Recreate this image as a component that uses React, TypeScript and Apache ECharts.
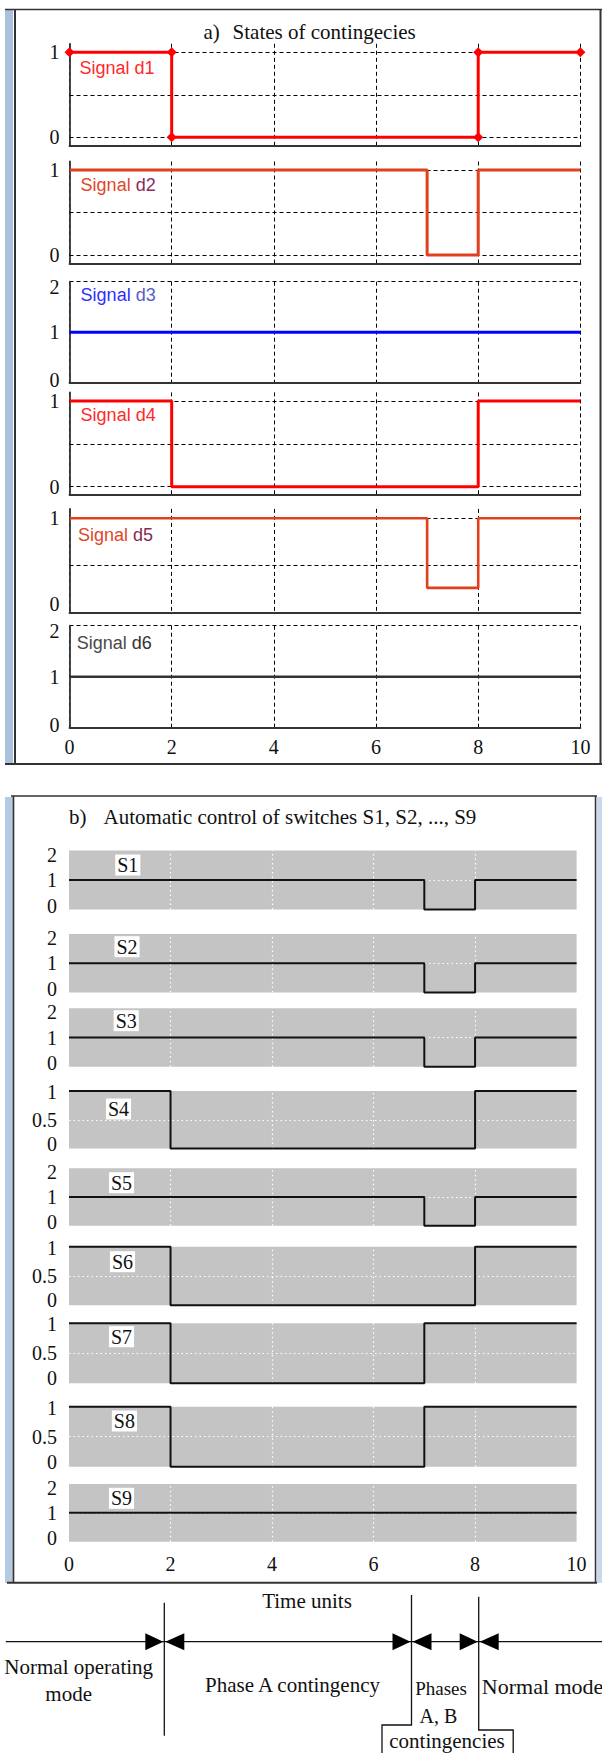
import React, { useEffect, useRef } from "react";
import * as echarts from "echarts";

// ---------- data (time, value) ----------
const timeTicks = [0, 2, 4, 6, 8, 10];

const d1 = [[0, 1], [2, 1], [2, 0], [8, 0], [8, 1], [10, 1]];
const d2 = [[0, 1], [7, 1], [7, 0], [8, 0], [8, 1], [10, 1]];
const d3 = [[0, 1], [10, 1]];
const d4 = [[0, 1], [2, 1], [2, 0], [8, 0], [8, 1], [10, 1]];
const d5 = [[0, 1], [7, 1], [7, 0.26], [8, 0.26], [8, 1], [10, 1]];
const d6 = [[0, 1], [10, 1]];

const S1 = [[0, 1], [7, 1], [7, 0], [8, 0], [8, 1], [10, 1]];
const S2 = [[0, 1], [7, 1], [7, 0], [8, 0], [8, 1], [10, 1]];
const S3 = [[0, 1], [7, 1], [7, 0], [8, 0], [8, 1], [10, 1]];
const S4 = [[0, 1], [2, 1], [2, 0], [8, 0], [8, 1], [10, 1]];
const S5 = [[0, 1], [7, 1], [7, 0], [8, 0], [8, 1], [10, 1]];
const S6 = [[0, 1], [2, 1], [2, 0], [8, 0], [8, 1], [10, 1]];
const S7 = [[0, 1], [2, 1], [2, 0], [7, 0], [7, 1], [10, 1]];
const S8 = [[0, 1], [2, 1], [2, 0], [7, 0], [7, 1], [10, 1]];
const S9 = [[0, 1], [10, 1]];

const signalNames = ["d1", "d2", "d3", "d4", "d5", "d6"];
const signalData = [d1, d2, d3, d4, d5, d6];
const switchNames = ["S1", "S2", "S3", "S4", "S5", "S6", "S7", "S8", "S9"];
const switchData = [S1, S2, S3, S4, S5, S6, S7, S8, S9];

// y ranges / tick values
const unitRange = [-0.1, 1.1];
const unitTopRange = [0, 1.1];
const twoRange = [0, 2];
const oneRange = [0, 1];
const unitGridValues = [0, 0.5, 1];
const unitTopGridValues = [0.5, 1];
const twoInnerGrid = [1];
const oneInnerGrid = [0.5];

// ---------- styles / layout ----------
const SERIF = "'Liberation Serif', 'Times New Roman', Times, serif";
const SANS = "'Liberation Sans', Arial, Helvetica, sans-serif";

const aLayout = [
  { top: 43.8, height: 102, kind: "unit" },
  { top: 161.5, height: 102, kind: "unit" },
  { top: 281.7, height: 101, kind: "two" },
  { top: 392.4, height: 102.8, kind: "unit" },
  { top: 508.9, height: 103.4, kind: "unitTop" },
  { top: 625.7, height: 102, kind: "two" },
];
const aColors = ["#ff0000", "#e0401c", "#0000ff", "#ff0000", "#e0401c", "#333333"];
const aWidths = [3, 3, 3, 3, 2.6, 2.6];
const aLabelPos = [
  [79.5, 68.3], [80.6, 185], [80.6, 295], [80.6, 415], [78, 535], [76.8, 642.7],
];
const aLabelColors = [
  ["#ff2a2a", "#ff2a2a"],
  ["#e2452a", "#8a2a60"],
  ["#3030ff", "#5a5ac8"],
  ["#ff2a2a", "#ff2a2a"],
  ["#e2452a", "#8a2a50"],
  ["#4a4a4a", "#333333"],
];

const bLayout = [
  { top: 850.5, height: 59, kind: "two" },
  { top: 934, height: 58.5, kind: "two" },
  { top: 1008.3, height: 58.5, kind: "two" },
  { top: 1091, height: 57.5, kind: "one" },
  { top: 1168.3, height: 57.5, kind: "two" },
  { top: 1246.7, height: 58.5, kind: "one" },
  { top: 1323.3, height: 60, kind: "one" },
  { top: 1406.7, height: 60, kind: "one" },
  { top: 1484, height: 57.7, kind: "two" },
];
const bLabelPos = [
  [127.8, 865], [127, 946.7], [126.2, 1020.7], [118.5, 1109], [121.5, 1182.7],
  [122.5, 1261.7], [121.5, 1336.7], [124.4, 1421], [121.5, 1498.3],
];

const near = (a: number, b: number) => Math.abs(a - b) < 1e-6;

// rich-text y labels: the lowest label is lifted, the highest one lowered
function yLabel(shiftLo: number, shiftHi: number, lo: number, hi: number, shown: number[]) {
  const base = { fontFamily: SERIF, fontSize: 20, color: "#111" };
  return {
    margin: 10,
    ...base,
    formatter: (v: number) => {
      if (!shown.some((s) => near(s, v))) return "";
      const t = String(Math.round(v * 10) / 10);
      if (near(v, lo)) return "{lo|" + t + "}";
      if (near(v, hi)) return "{hi|" + t + "}";
      return "{n|" + t + "}";
    },
    rich: {
      lo: { ...base, padding: [0, 0, 2 * shiftLo, 0] },
      hi: { ...base, padding: [2 * shiftHi, 0, 0, 0] },
      n: { ...base },
    },
  };
}

function buildOption() {
  const grids: any[] = [];
  const xAxes: any[] = [];
  const yAxes: any[] = [];
  const series: any[] = [];
  const graphics: any[] = [];
  const xMin = timeTicks[0];
  const xMax = timeTicks[timeTicks.length - 1];
  const xInt = timeTicks[1] - timeTicks[0];
  const innerX = timeTicks.slice(1, -1);

  // ----- panel a -----
  aLayout.forEach((L, i) => {
    const gi = grids.length;
    grids.push({ left: 69.5, width: 510.9, top: L.top, height: L.height });
    xAxes.push({
      type: "value", gridIndex: gi, min: xMin, max: xMax, interval: xInt,
      axisLine: { show: true, onZero: false, lineStyle: { color: "#333", width: 1.8 } },
      axisTick: { show: false },
      axisLabel: { show: i === aLayout.length - 1, margin: 9, fontFamily: SERIF, fontSize: 20, color: "#111" },
      splitLine: { show: true, lineStyle: { color: "#000", width: 1, type: [4, 3] } },
    });
    let y: any;
    if (L.kind === "two") {
      y = {
        min: twoRange[0], max: twoRange[1], interval: 1,
        splitLine: { show: true, lineStyle: { color: "#000", width: 1, type: [4, 3] } },
        axisLabel: yLabel(3, 5, 0, 2, [0, 1, 2]),
      };
    } else {
      const r = L.kind === "unit" ? unitRange : unitTopRange;
      y = {
        min: r[0], max: r[1], interval: 0.1,
        splitLine: { show: false },
        axisLabel: L.kind === "unit" ? yLabel(0, 0, 0, 1, [0, 1]) : yLabel(8, 0, 0, 1, [0, 1]),
      };
    }
    yAxes.push({
      type: "value", gridIndex: gi, ...y,
      axisLine: { show: true, onZero: false, lineStyle: { color: "#333", width: 1.8 } },
      axisTick: { show: false },
    });
    const s: any = {
      type: "line", name: signalNames[i], xAxisIndex: gi, yAxisIndex: gi,
      data: signalData[i], clip: false, z: 3,
      lineStyle: { color: aColors[i], width: aWidths[i] },
      itemStyle: { color: aColors[i] },
      symbol: i === 0 ? "diamond" : "none", symbolSize: 10, showSymbol: i === 0,
    };
    if (L.kind !== "two") {
      s.markLine = {
        silent: true, symbol: ["none", "none"], z: 1, animation: false,
        label: { show: false },
        lineStyle: { color: "#000", width: 1, type: [4, 3] },
        data: (L.kind === "unit" ? unitGridValues : unitTopGridValues).map((v) => ({ yAxis: v })),
      };
    }
    series.push(s);
    const [lx, ly] = aLabelPos[i];
    const [c1, c2] = aLabelColors[i];
    graphics.push({
      type: "text", x: lx, y: ly, z: 10,
      style: {
        text: "{a|Signal }{b|" + signalNames[i] + "}",
        rich: {
          a: { fill: c1, fontFamily: SANS, fontSize: 18 },
          b: { fill: c2, fontFamily: SANS, fontSize: 18 },
        },
        align: "left", verticalAlign: "middle", textAlign: "left", textVerticalAlign: "middle",
      },
    });
  });

  // ----- panel b -----
  const dotted = { color: "#ffffff", width: 1.2, type: [1.5, 3] };
  bLayout.forEach((L, i) => {
    const gi = grids.length;
    grids.push({
      left: 69, width: 507.6, top: L.top, height: L.height,
      show: true, backgroundColor: "#c4c4c4", borderWidth: 0,
    });
    xAxes.push({
      type: "value", gridIndex: gi, min: xMin, max: xMax, interval: xInt,
      axisLine: { show: false }, axisTick: { show: false },
      axisLabel: { show: i === bLayout.length - 1, margin: 12, fontFamily: SERIF, fontSize: 20, color: "#111" },
      splitLine: { show: false },
    });
    const two = L.kind === "two";
    const r = two ? twoRange : oneRange;
    const lab = two ? yLabel(4, 4, 0, 2, [0, 1, 2]) : yLabel(5, 1, 0, 1, [0, 0.5, 1]);
    yAxes.push({
      type: "value", gridIndex: gi, min: r[0], max: r[1], interval: two ? 1 : 0.5,
      axisLine: { show: false }, axisTick: { show: false },
      axisLabel: { ...lab, margin: 12 },
      splitLine: { show: false },
    });
    series.push({
      type: "line", name: switchNames[i], xAxisIndex: gi, yAxisIndex: gi,
      data: switchData[i], clip: false, z: 3, symbol: "none", showSymbol: false,
      lineStyle: { color: "#111", width: 2 },
      markLine: {
        silent: true, symbol: ["none", "none"], z: 1, animation: false,
        label: { show: false },
        lineStyle: dotted,
        data: [
          ...innerX.map((v) => ({ xAxis: v })),
          ...(two ? twoInnerGrid : oneInnerGrid).map((v) => ({ yAxis: v })),
        ],
      },
    });
    const [lx, ly] = bLabelPos[i];
    graphics.push({
      type: "text", x: lx, y: ly, z: 10,
      style: {
        text: switchNames[i], fill: "#111", font: "20px " + SERIF,
        backgroundColor: "#ffffff", padding: [1, 2, 0, 2],
        align: "center", verticalAlign: "middle", textAlign: "center", textVerticalAlign: "middle",
      },
    });
  });

  const line = (x1: number, y1: number, x2: number, y2: number, w = 1.5, c = "#333") => ({
    type: "line", z: 5, shape: { x1, y1, x2, y2 }, style: { stroke: c, lineWidth: w },
  });
  const text = (t: string, x: number, y: number, align: string, size = 21) => ({
    type: "text", x, y, z: 10,
    style: {
      text: t, fill: "#111", font: size + "px " + SERIF,
      align, verticalAlign: "middle", textAlign: align, textVerticalAlign: "middle",
    },
  });

  // frames panel a
  graphics.push({ type: "rect", z: 4, shape: { x: 5, y: 10, width: 8, height: 754 }, style: { fill: "#a9c3df" } });
  graphics.push(line(5, 9.5, 602, 9.5, 1.5));
  graphics.push(line(15, 10, 15, 764, 2));
  graphics.push(line(600.5, 9, 600.5, 764, 2));
  graphics.push(line(5, 764, 602, 764, 2));
  graphics.push(text("a)", 203.5, 31.7, "left"));
  graphics.push(text("States of contingecies", 232.6, 31.7, "left"));

  // frames panel b
  graphics.push({ type: "rect", z: 4, shape: { x: 5, y: 797, width: 7, height: 786 }, style: { fill: "#b3cae3" } });
  graphics.push({ type: "rect", z: 4, shape: { x: 596.5, y: 797, width: 5.5, height: 786 }, style: { fill: "#c9d8ea" } });
  graphics.push(line(11, 796, 597, 796, 1.5));
  graphics.push(line(13.4, 796, 13.4, 1583, 1.8));
  graphics.push(line(595.5, 796, 595.5, 1583, 1.5));
  graphics.push(line(7, 1582.7, 597, 1582.7, 2));
  graphics.push(text("b)", 69, 816.7, "left"));
  graphics.push(text("Automatic control of switches S1, S2, ..., S9", 103.6, 816.7, "left"));

  // bottom diagram
  const ay = 1641.7;
  graphics.push(line(5.8, ay, 602, ay, 1.3, "#111"));
  graphics.push(line(164.3, 1602.7, 164.3, 1735.7, 1.3, "#111"));
  graphics.push({
    type: "polyline", z: 5,
    shape: { points: [[411.5, 1595], [411.5, 1725], [382, 1725], [382, 1753]] },
    style: { stroke: "#111", lineWidth: 1.3, fill: null },
  });
  graphics.push({
    type: "polyline", z: 5,
    shape: { points: [[478.7, 1596.7], [478.7, 1730], [513.2, 1730], [513.2, 1753]] },
    style: { stroke: "#111", lineWidth: 1.3, fill: null },
  });
  [164.3, 411.5, 478.7].forEach((L) => {
    graphics.push({
      type: "polygon", z: 6,
      shape: { points: [[L - 19, ay - 8.5], [L - 1, ay], [L - 19, ay + 8.5]] },
      style: { fill: "#000" },
    });
    graphics.push({
      type: "polygon", z: 6,
      shape: { points: [[L + 20, ay - 8.5], [L + 1, ay], [L + 20, ay + 8.5]] },
      style: { fill: "#000" },
    });
  });
  graphics.push(text("Time units", 307, 1601, "center"));
  graphics.push(text("Normal operating", 78.7, 1667.3, "center"));
  graphics.push(text("mode", 68.7, 1694, "center"));
  graphics.push(text("Phase A contingency", 292.5, 1685, "center"));
  graphics.push(text("Phases", 415.2, 1688.3, "left", 19));
  graphics.push(text("A, B", 419.6, 1715.7, "left", 20));
  graphics.push(text("contingencies", 447, 1741, "center", 21));
  graphics.push(text("Normal mode", 481.8, 1686.7, "left", 22));

  return {
    animation: false,
    backgroundColor: "#ffffff",
    grid: grids,
    xAxis: xAxes,
    yAxis: yAxes,
    series,
    graphic: { elements: graphics },
  };
}

export default function App() {
  const ref = useRef<HTMLDivElement>(null);
  useEffect(() => {
    document.body.style.margin = "0";
    if (!ref.current) return;
    const chart = echarts.init(ref.current, null, { renderer: "svg" });
    chart.setOption(buildOption() as any);
    return () => chart.dispose();
  }, []);
  return <div ref={ref} style={{ width: 602, height: 1753 }} />;
}
